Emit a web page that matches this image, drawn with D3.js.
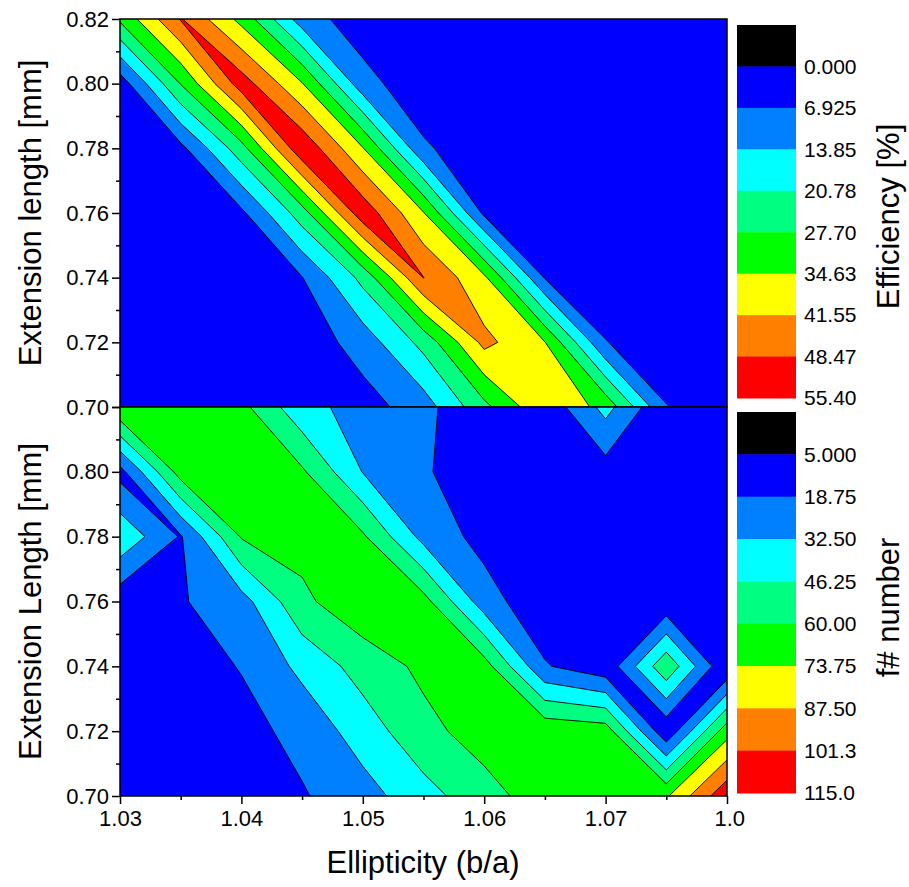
<!DOCTYPE html>
<html>
<head>
<meta charset="utf-8">
<script src="https://cdn.jsdelivr.net/npm/d3@7"></script>
<style>
  body { margin: 0; background: #fff; }
  text { font-family: "Liberation Sans", Arial, sans-serif; fill: #000; }
</style>
</head>
<body>
<svg id="chart" width="909" height="887"></svg>
<script>
// grid positions
const ellipticity = [1.030, 1.035, 1.040, 1.045, 1.050, 1.055, 1.060, 1.065, 1.070, 1.075, 1.080];
const extLength = [0.70, 0.72, 0.74, 0.76, 0.78, 0.80, 0.82];

// efficiency [%], one row per extension length (0.70 first)
const efficiency = [
  [1, 1.5, 2, 3, 4, 10.5, 25.8, 40.6, 32.5, 7.2, 2],
  [1, 1, 1.5, 2.5, 10, 23, 43.5, 34.8, 7.2, 2, 1],
  [1, 1.5, 3, 6.7, 22.8, 48.6, 36, 6.5, 2, 1, 1],
  [1, 1.5, 5.5, 24.5, 53, 35, 5.5, 2, 1, 1, 1],
  [1.5, 5, 25, 54, 35, 8, 2, 1.5, 1, 1, 1],
  [3, 28, 52, 35, 9.5, 2, 1.5, 1, 1, 1, 1],
  [29, 49, 32.5, 10.3, 3, 2, 1.5, 1, 1, 1, 1]
];

// f# number, same layout
const fNumber = [
  [8, 10, 13, 17.5, 27, 41, 54.8, 67, 68, 72, 112],
  [8, 10, 14, 23, 39, 56, 66, 70, 67, 8, 68],
  [10, 12, 19.5, 36, 52, 63, 66, 20, 9, 57, 6],
  [10, 17.5, 27, 57, 70, 65, 25, 8, 7, 8, 6],
  [43, 17.5, 61, 65, 62, 28, 14, 10, 9, 6, 5.5],
  [14, 66, 70, 62, 32, 20, 12, 11, 12.6, 6, 5.5],
  [72, 70, 63.9, 36.4, 28, 21, 11.6, 9, 37, 6.6, 5.5]
];

const effLevels = [0, 6.925, 13.85, 20.775, 27.7, 34.625, 41.55, 48.475, 55.4];
const effLabels = ['0.000', '6.925', '13.85', '20.78', '27.70', '34.63', '41.55', '48.47', '55.40'];
const fLevels = [5, 18.75, 32.5, 46.25, 60, 73.75, 87.5, 101.25, 115];
const fLabels = ['5.000', '18.75', '32.50', '46.25', '60.00', '73.75', '87.50', '101.3', '115.0'];
const bandColors = ['#000000', '#0000ff', '#0080ff', '#00ffff', '#00ff80', '#00ff00', '#ffff00', '#ff8000', '#ff0000'];

const xTicks = [1.03, 1.04, 1.05, 1.06, 1.07, 1.08];
const xTickLabels = ['1.03', '1.04', '1.05', '1.06', '1.07', '1.0'];
const xMinor = [1.035, 1.045, 1.055, 1.065, 1.075];
const yTicks = [0.70, 0.72, 0.74, 0.76, 0.78, 0.80, 0.82];
const yMinor = [0.71, 0.73, 0.75, 0.77, 0.79, 0.81];

const svg = d3.select('#chart');
const left = 120, right = 727;
const x = d3.scaleLinear().domain([1.03, 1.08]).range([left, right]);

// the efficiency ridge runs diagonally, so its saddles are joined by contouring the low side
const panels = [
  {grid: efficiency, levels: effLevels, labels: effLabels, top: 19, bottom: 407, joinHigh: true,
   title: 'Extension length [mm]', cbTitle: 'Efficiency [%]', cbTop: 25, cbBottom: 398, id: 'eff'},
  {grid: fNumber, levels: fLevels, labels: fLabels, top: 407, bottom: 796, joinHigh: false,
   title: 'Extension Length [mm]', cbTitle: 'f# number', cbTop: 412, cbBottom: 793, id: 'fn'}
];

panels.forEach((p, pi) => {
  const y = d3.scaleLinear().domain([0.70, 0.82]).range([p.bottom, p.top]);
  const nx = ellipticity.length, ny = extLength.length;
  const dx = ellipticity[1] - ellipticity[0], dy = extLength[1] - extLength[0];

  svg.append('clipPath').attr('id', 'clip-' + p.id)
    .append('rect').attr('x', left).attr('y', p.top)
    .attr('width', right - left).attr('height', p.bottom - p.top);

  // grid value i sits at i + 0.5 in d3's grid space
  const proj = d3.geoTransform({
    point: function(px, py) {
      this.stream.point(x(ellipticity[0] + (px - 0.5) * dx), y(extLength[0] + (py - 0.5) * dy));
    }
  });
  const path = d3.geoPath(proj);

  let bands;
  if (p.joinHigh) {
    // polygons of v <= level, largest level first
    const lv = p.levels.map((l, k) => ({l, k})).reverse();
    const cs = d3.contours().size([nx, ny]).thresholds(lv.map(o => -o.l))(p.grid.flat().map(v => -v));
    bands = cs.map((c, i) => ({geo: c, color: bandColors[lv[i].k], first: i === 0}));
  } else {
    const cs = d3.contours().size([nx, ny]).thresholds(p.levels)(p.grid.flat());
    bands = cs.map((c, i) => ({geo: c, color: bandColors[i + 1], first: i === 0}));
  }

  const g = svg.append('g').attr('clip-path', 'url(#clip-' + p.id + ')');
  g.selectAll('path')
    .data(bands)
    .enter()
    .append('path')
    .attr('d', d => path(d.geo))
    .attr('fill', d => d.color)
    .attr('stroke', d => d.first ? 'none' : '#000')
    .attr('stroke-width', 0.9)
    .attr('stroke-linejoin', 'round');

  // frame
  svg.append('rect').attr('x', left).attr('y', p.top)
    .attr('width', right - left).attr('height', p.bottom - p.top)
    .attr('fill', 'none').attr('stroke', '#000').attr('stroke-width', 1.5);

  // y axis
  const yAxis = svg.append('g').attr('transform', `translate(${left},0)`)
    .call(d3.axisLeft(y).tickValues(yTicks).tickSize(8).tickPadding(3)
      .tickFormat(d => (pi === 1 && d > 0.815) ? '' : d3.format('.2f')(d)));
  yAxis.select('.domain').remove();
  yAxis.selectAll('line').attr('stroke', '#000').attr('stroke-width', 1.5);
  yAxis.selectAll('text').attr('font-size', 22).attr('font-family', '"Liberation Sans", Arial, sans-serif');
  const yAxisMinor = svg.append('g').attr('transform', `translate(${left},0)`)
    .call(d3.axisLeft(y).tickValues(yMinor).tickSize(4).tickFormat(''));
  yAxisMinor.select('.domain').remove();
  yAxisMinor.selectAll('line').attr('stroke', '#000').attr('stroke-width', 1.5);

  svg.append('text')
    .attr('transform', `translate(41,${(p.top + p.bottom) / 2}) rotate(-90)`)
    .attr('text-anchor', 'middle')
    .attr('font-size', 31)
    .text(p.title);

  // colour bar
  const bh = (p.cbBottom - p.cbTop) / bandColors.length;
  svg.selectAll('rect.cb-' + p.id)
    .data(bandColors)
    .enter()
    .append('rect')
    .attr('class', 'cb-' + p.id)
    .attr('x', 737).attr('y', (d, i) => p.cbTop + i * bh)
    .attr('width', 59).attr('height', bh + 0.5)
    .attr('fill', d => d);
  svg.selectAll('text.cbl-' + p.id)
    .data(p.labels)
    .enter()
    .append('text')
    .attr('class', 'cbl-' + p.id)
    .attr('x', 804).attr('y', (d, i) => p.cbTop + (i + 1) * bh)
    .attr('dy', '0.35em')
    .attr('font-size', 21)
    .text(d => d);
  svg.append('text')
    .attr('transform', `translate(899,${(p.cbTop + p.cbBottom) / 2 + 5}) rotate(-90)`)
    .attr('text-anchor', 'middle')
    .attr('font-size', 31)
    .text(p.cbTitle);
});

// x axis under the lower panel
const xAxis = svg.append('g').attr('transform', 'translate(0,796)')
  .call(d3.axisBottom(x).tickValues(xTicks).tickSize(8).tickPadding(6)
    .tickFormat((d, i) => xTickLabels[i]));
xAxis.select('.domain').remove();
xAxis.selectAll('line').attr('stroke', '#000').attr('stroke-width', 1.5);
xAxis.selectAll('text').attr('font-size', 22).attr('font-family', '"Liberation Sans", Arial, sans-serif');
xAxis.selectAll('.tick:last-of-type text').attr('text-anchor', 'start').attr('x', -13);
const xAxisMinor = svg.append('g').attr('transform', 'translate(0,796)')
  .call(d3.axisBottom(x).tickValues(xMinor).tickSize(4).tickFormat(''));
xAxisMinor.select('.domain').remove();
xAxisMinor.selectAll('line').attr('stroke', '#000').attr('stroke-width', 1.5);

svg.append('text')
  .attr('x', 423).attr('y', 873)
  .attr('text-anchor', 'middle')
  .attr('font-size', 31)
  .text('Ellipticity (b/a)');
</script>
</body>
</html>
